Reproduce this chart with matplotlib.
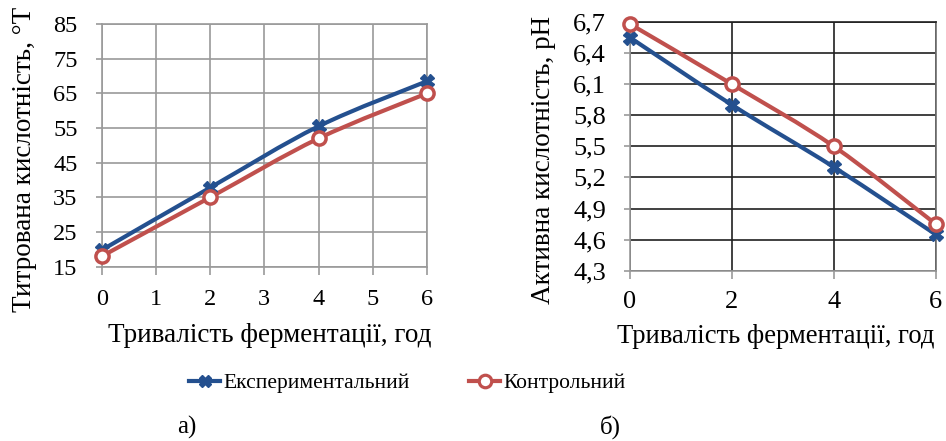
import matplotlib
matplotlib.use("Agg")
import matplotlib.pyplot as plt
from matplotlib.path import Path
from matplotlib.patches import PathPatch
from matplotlib.lines import Line2D
import numpy as np

plt.rcParams['font.family'] = ['Liberation Serif', 'DejaVu Serif']

# ---- data ----
hours = [0, 2, 4, 6]
tit_exp = [19.8, 37.8, 55.5, 68.5]
tit_ctrl = [18.0, 35.0, 52.0, 65.0]
ph_exp = [6.55, 5.90, 5.30, 4.65]
ph_ctrl = [6.68, 6.10, 5.50, 4.75]

x_ticks_a = [0, 1, 2, 3, 4, 5, 6]
y_ticks_a = [15, 25, 35, 45, 55, 65, 75, 85]
x_ticks_b = [0, 2, 4, 6]
y_ticks_b = [4.3, 4.6, 4.9, 5.2, 5.5, 5.8, 6.1, 6.4, 6.7]

label_a_y = "Титрована кислотність, °Т"
label_b_y = "Активна кислотність, pH"
label_x = "Тривалість ферментації, год"
series_names = ["Експериментальний", "Контрольний"]

BLUE = "#24508f"
RED = "#c0504d"
GRAY = "#9a9a9a"

fig = plt.figure(figsize=(9.46, 4.41), dpi=100)
W, H = 946, 441


def px_axes(x0, x1, ytop, ybot):
    return fig.add_axes([x0 / W, (H - ybot) / H, (x1 - x0) / W, (ybot - ytop) / H])


def smooth_path(ax, xs, ys, color):
    pts = np.column_stack([xs, ys]).astype(float)
    n = len(pts)
    verts = [pts[0]]
    codes = [Path.MOVETO]
    for i in range(n - 1):
        p_prev = pts[i - 1] if i > 0 else pts[i]
        p_next2 = pts[i + 2] if i + 2 < n else pts[i + 1]
        c1 = pts[i] + (pts[i + 1] - p_prev) / 6.0
        c2 = pts[i + 1] - (p_next2 - pts[i]) / 6.0
        verts += [c1, c2, pts[i + 1]]
        codes += [Path.CURVE4] * 3
    patch = PathPatch(Path(verts, codes), facecolor='none', edgecolor=color,
                      lw=3, transform=ax.transData, clip_on=False, zorder=3,
                      capstyle='round', joinstyle='round')
    ax.add_patch(patch)


def style(ax, grid_color, fs, xpad):
    for s in ax.spines.values():
        s.set_color(GRAY)
        s.set_linewidth(1.2)
    ax.grid(True, color=grid_color, lw=1.2)
    ax.set_axisbelow(True)
    ax.tick_params(axis='y', direction='out', length=4.3, width=1.2, color=GRAY,
                   labelsize=fs, pad=13)
    ax.tick_params(axis='x', direction='out', length=5.8, width=1.2, color=GRAY,
                   labelsize=fs, pad=xpad)


def draw_series(ax, ys_exp, ys_ctrl):
    smooth_path(ax, hours, ys_exp, BLUE)
    smooth_path(ax, hours, ys_ctrl, RED)
    ax.plot(hours, ys_exp, ls='none', marker='X', ms=9.5, color=BLUE, mec=BLUE,
            clip_on=False, zorder=4)
    ax.plot(hours, ys_ctrl, ls='none', marker='o', ms=9.5, mfc='white', mec=RED,
            mew=2.5, clip_on=False, zorder=5)


# ---- chart a ----
ax1 = px_axes(101.7, 427, 24, 266.7)
ax1.set_xlim(0, 6)
ax1.set_ylim(15, 85)
ax1.set_xticks(x_ticks_a)
ax1.set_yticks(y_ticks_a)
style(ax1, GRAY, 17.5, 10.5)
draw_series(ax1, tit_exp, tit_ctrl)

# ---- chart b ----
ax2 = px_axes(630, 935.7, 22, 270.7)
ax2.set_xlim(0, 6)
ax2.set_ylim(4.3, 6.7)
ax2.set_xticks(x_ticks_b)
ax2.set_yticks(y_ticks_b)
ax2.set_yticklabels([f"{v:.1f}".replace('.', ',') for v in y_ticks_b])
style(ax2, "#202020", 19, 8.5)
ax2.spines['top'].set_color("#202020")
ax2.spines['right'].set_color("#707070")
draw_series(ax2, ph_exp, ph_ctrl)

# ---- axis labels ----
fig.text(25 / W, 1 - 159 / H, label_a_y, rotation=90, ha='center', va='center', fontsize=19.5)
fig.text(544 / W, 1 - 160 / H, label_b_y, rotation=90, ha='center', va='center', fontsize=19.5)
fig.text(270 / W, 1 - 342 / H, label_x, ha='center', va='baseline', fontsize=19.5)
fig.text(617 / W, 1 - 343 / H, label_x, ha='left', va='baseline', fontsize=19.2)

# ---- legend ----
h1 = Line2D([], [], color=BLUE, lw=3, marker='X', ms=9, mec=BLUE)
h2 = Line2D([], [], color=RED, lw=3, marker='o', ms=9, mfc='white', mec=RED, mew=2.3)
fig.legend([h1, h2], series_names, loc='center left',
           bbox_to_anchor=(189 / W, 1 - 383 / H), ncol=2, frameon=False,
           fontsize=15.5, handlelength=1.45, handletextpad=0.15, columnspacing=2.75,
           borderpad=0, borderaxespad=0)

fig.text(187 / W, 1 - 427 / H, "а)", ha='center', va='center', fontsize=18)
fig.text(610 / W, 1 - 427 / H, "б)", ha='center', va='center', fontsize=18)

fig.savefig("out.png", dpi=100)
